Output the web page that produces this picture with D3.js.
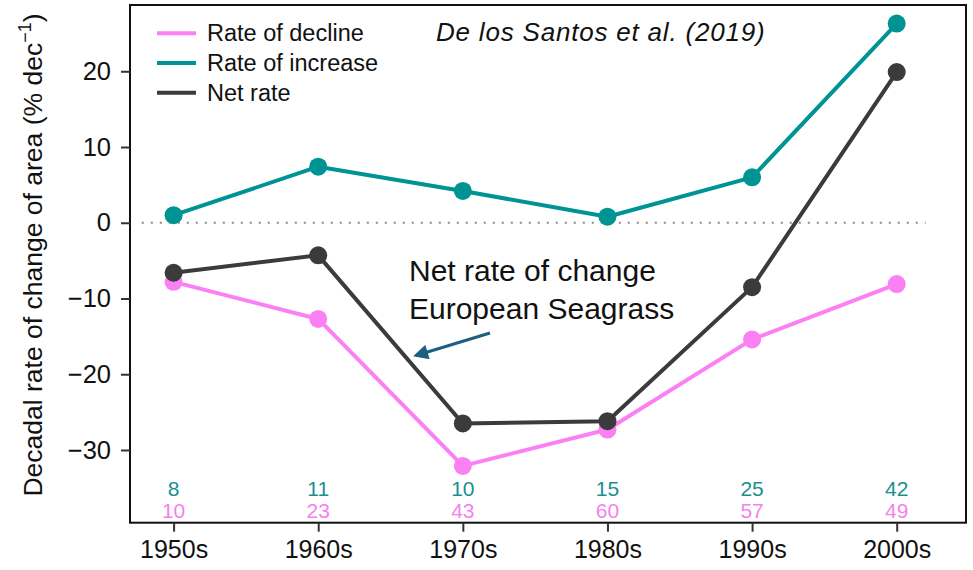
<!DOCTYPE html>
<html>
<head>
<meta charset="utf-8">
<script src="https://cdn.jsdelivr.net/npm/d3@7"></script>
<style>
  html, body { margin: 0; padding: 0; background: #fff; }
  svg { display: block; }
  text { font-family: "Liberation Sans", Arial, Helvetica, sans-serif; }
</style>
</head>
<body>
<svg id="chart" width="973" height="570"></svg>
<script>
// Decadal rates of change of European seagrass area (% per decade)
const decades = ["1950s", "1960s", "1970s", "1980s", "1990s", "2000s"];
const rateDecline = [-7.8, -12.7, -32.1, -27.3, -15.4, -8.1];
const rateIncrease = [1.0, 7.4, 4.2, 0.8, 6.0, 26.3];
const netRate = [-6.6, -4.3, -26.5, -26.2, -8.5, 19.9];
// Number of sites recording increase / decline per decade
const sitesIncrease = [8, 11, 10, 15, 25, 42];
const sitesDecline = [10, 23, 43, 60, 57, 49];
const yTicks = [-30, -20, -10, 0, 10, 20];

const colDecline = "#fb80f3";
const colIncrease = "#009393";
const colNet = "#3b3b3b";

const svg = d3.select("#chart");
const plot = { left: 130, right: 966, top: 5, bottom: 522.7 };

const x = d3.scalePoint().domain(decades).range([173.6, 896.7]);
const y = d3.scaleLinear().domain([-39.6, 28.75]).range([plot.bottom, plot.top]);

// zero reference line
const step = x.step();
svg.append("line")
  .attr("x1", x(decades[0]) - 0.22 * step)
  .attr("x2", x(decades[decades.length - 1]) + 0.2 * step)
  .attr("y1", y(0)).attr("y2", y(0))
  .attr("stroke", "#8a8a8a").attr("stroke-width", 2)
  .attr("stroke-dasharray", "2,7");

// series
const series = [
  { values: rateDecline, color: colDecline },
  { values: rateIncrease, color: colIncrease },
  { values: netRate, color: colNet }
];
const line = d3.line().x((d, i) => x(decades[i])).y(d => y(d));
series.forEach(s => {
  svg.append("path")
    .datum(s.values)
    .attr("d", line)
    .attr("fill", "none")
    .attr("stroke", s.color)
    .attr("stroke-width", 4)
    .attr("stroke-linejoin", "round");
  svg.append("g").selectAll("circle")
    .data(s.values)
    .join("circle")
    .attr("cx", (d, i) => x(decades[i]))
    .attr("cy", d => y(d))
    .attr("r", 9)
    .attr("fill", s.color);
});

// site counts along the bottom
svg.append("g").selectAll("text")
  .data(sitesIncrease)
  .join("text")
  .attr("x", (d, i) => x(decades[i]))
  .attr("y", 496)
  .attr("text-anchor", "middle")
  .attr("font-size", 21)
  .attr("fill", "#1a8f8f")
  .text(d => d);
svg.append("g").selectAll("text")
  .data(sitesDecline)
  .join("text")
  .attr("x", (d, i) => x(decades[i]))
  .attr("y", 518)
  .attr("text-anchor", "middle")
  .attr("font-size", 21)
  .attr("fill", "#f77fef")
  .text(d => d);

// plot frame
svg.append("rect")
  .attr("x", plot.left).attr("y", plot.top)
  .attr("width", plot.right - plot.left)
  .attr("height", plot.bottom - plot.top)
  .attr("fill", "none")
  .attr("stroke", "#111")
  .attr("stroke-width", 2);

// axes
const yAxis = svg.append("g")
  .attr("transform", `translate(${plot.left},0)`)
  .call(d3.axisLeft(y).tickValues(yTicks).tickSize(9).tickPadding(10)
    .tickFormat(d => d < 0 ? "\u2212" + Math.abs(d) : d));
yAxis.select(".domain").remove();
yAxis.selectAll(".tick line").attr("stroke", "#333").attr("stroke-width", 2);
yAxis.selectAll(".tick text").attr("font-size", 25.5).attr("fill", "#111")
  .attr("font-family", "Liberation Sans, Arial, sans-serif");

const xAxis = svg.append("g")
  .attr("transform", `translate(0,${plot.bottom})`)
  .call(d3.axisBottom(x).tickSize(9).tickPadding(9));
xAxis.select(".domain").remove();
xAxis.selectAll(".tick line").attr("stroke", "#333").attr("stroke-width", 2);
xAxis.selectAll(".tick text").attr("font-size", 25).attr("fill", "#111")
  .attr("font-family", "Liberation Sans, Arial, sans-serif");

// y axis title
const yTitle = svg.append("text")
  .attr("transform", "translate(42,255) rotate(-90)")
  .attr("text-anchor", "middle")
  .attr("font-size", 26.5)
  .attr("fill", "#111");
yTitle.append("tspan").text("Decadal rate of change of area (% dec");
yTitle.append("tspan").attr("font-size", 18).attr("dy", -11).text("\u22121");
yTitle.append("tspan").attr("dy", 11).text(")");

// legend
const legendItems = [
  { label: "Rate of decline", color: colDecline },
  { label: "Rate of increase", color: colIncrease },
  { label: "Net rate", color: colNet }
];
const legend = svg.append("g");
legendItems.forEach((d, i) => {
  const ly = 33.3 + i * 29.7;
  legend.append("line")
    .attr("x1", 157).attr("x2", 196)
    .attr("y1", ly).attr("y2", ly)
    .attr("stroke", d.color).attr("stroke-width", 4);
  legend.append("text")
    .attr("x", 207).attr("y", ly + 8)
    .attr("font-size", 23.5)
    .attr("fill", "#111")
    .text(d.label);
});

// citation
svg.append("text")
  .attr("x", 436).attr("y", 41)
  .attr("font-family", "'Open Sans', sans-serif")
  .attr("font-style", "italic")
  .attr("font-size", 26)
  .attr("letter-spacing", 0.8)
  .attr("fill", "#111")
  .text("De los Santos et al. (2019)");

// annotation
const note = svg.append("text")
  .attr("font-family", "'Open Sans', sans-serif")
  .attr("font-size", 30)
  .attr("fill", "#111");
note.append("tspan").attr("x", 409).attr("y", 281).text("Net rate of change");
note.append("tspan").attr("x", 409).attr("y", 319).text("European Seagrass");

svg.append("defs").append("marker")
  .attr("id", "arrowhead")
  .attr("viewBox", "0 0 10 10")
  .attr("refX", 8).attr("refY", 5)
  .attr("markerWidth", 5.5).attr("markerHeight", 5)
  .attr("markerUnits", "strokeWidth")
  .attr("orient", "auto")
  .append("path").attr("d", "M0,0 L10,5 L0,10 z").attr("fill", "#1c5f80");
svg.append("line")
  .attr("x1", 490).attr("y1", 333)
  .attr("x2", 416).attr("y2", 355.5)
  .attr("stroke", "#1c5f80").attr("stroke-width", 3)
  .attr("marker-end", "url(#arrowhead)");
</script>
</body>
</html>
